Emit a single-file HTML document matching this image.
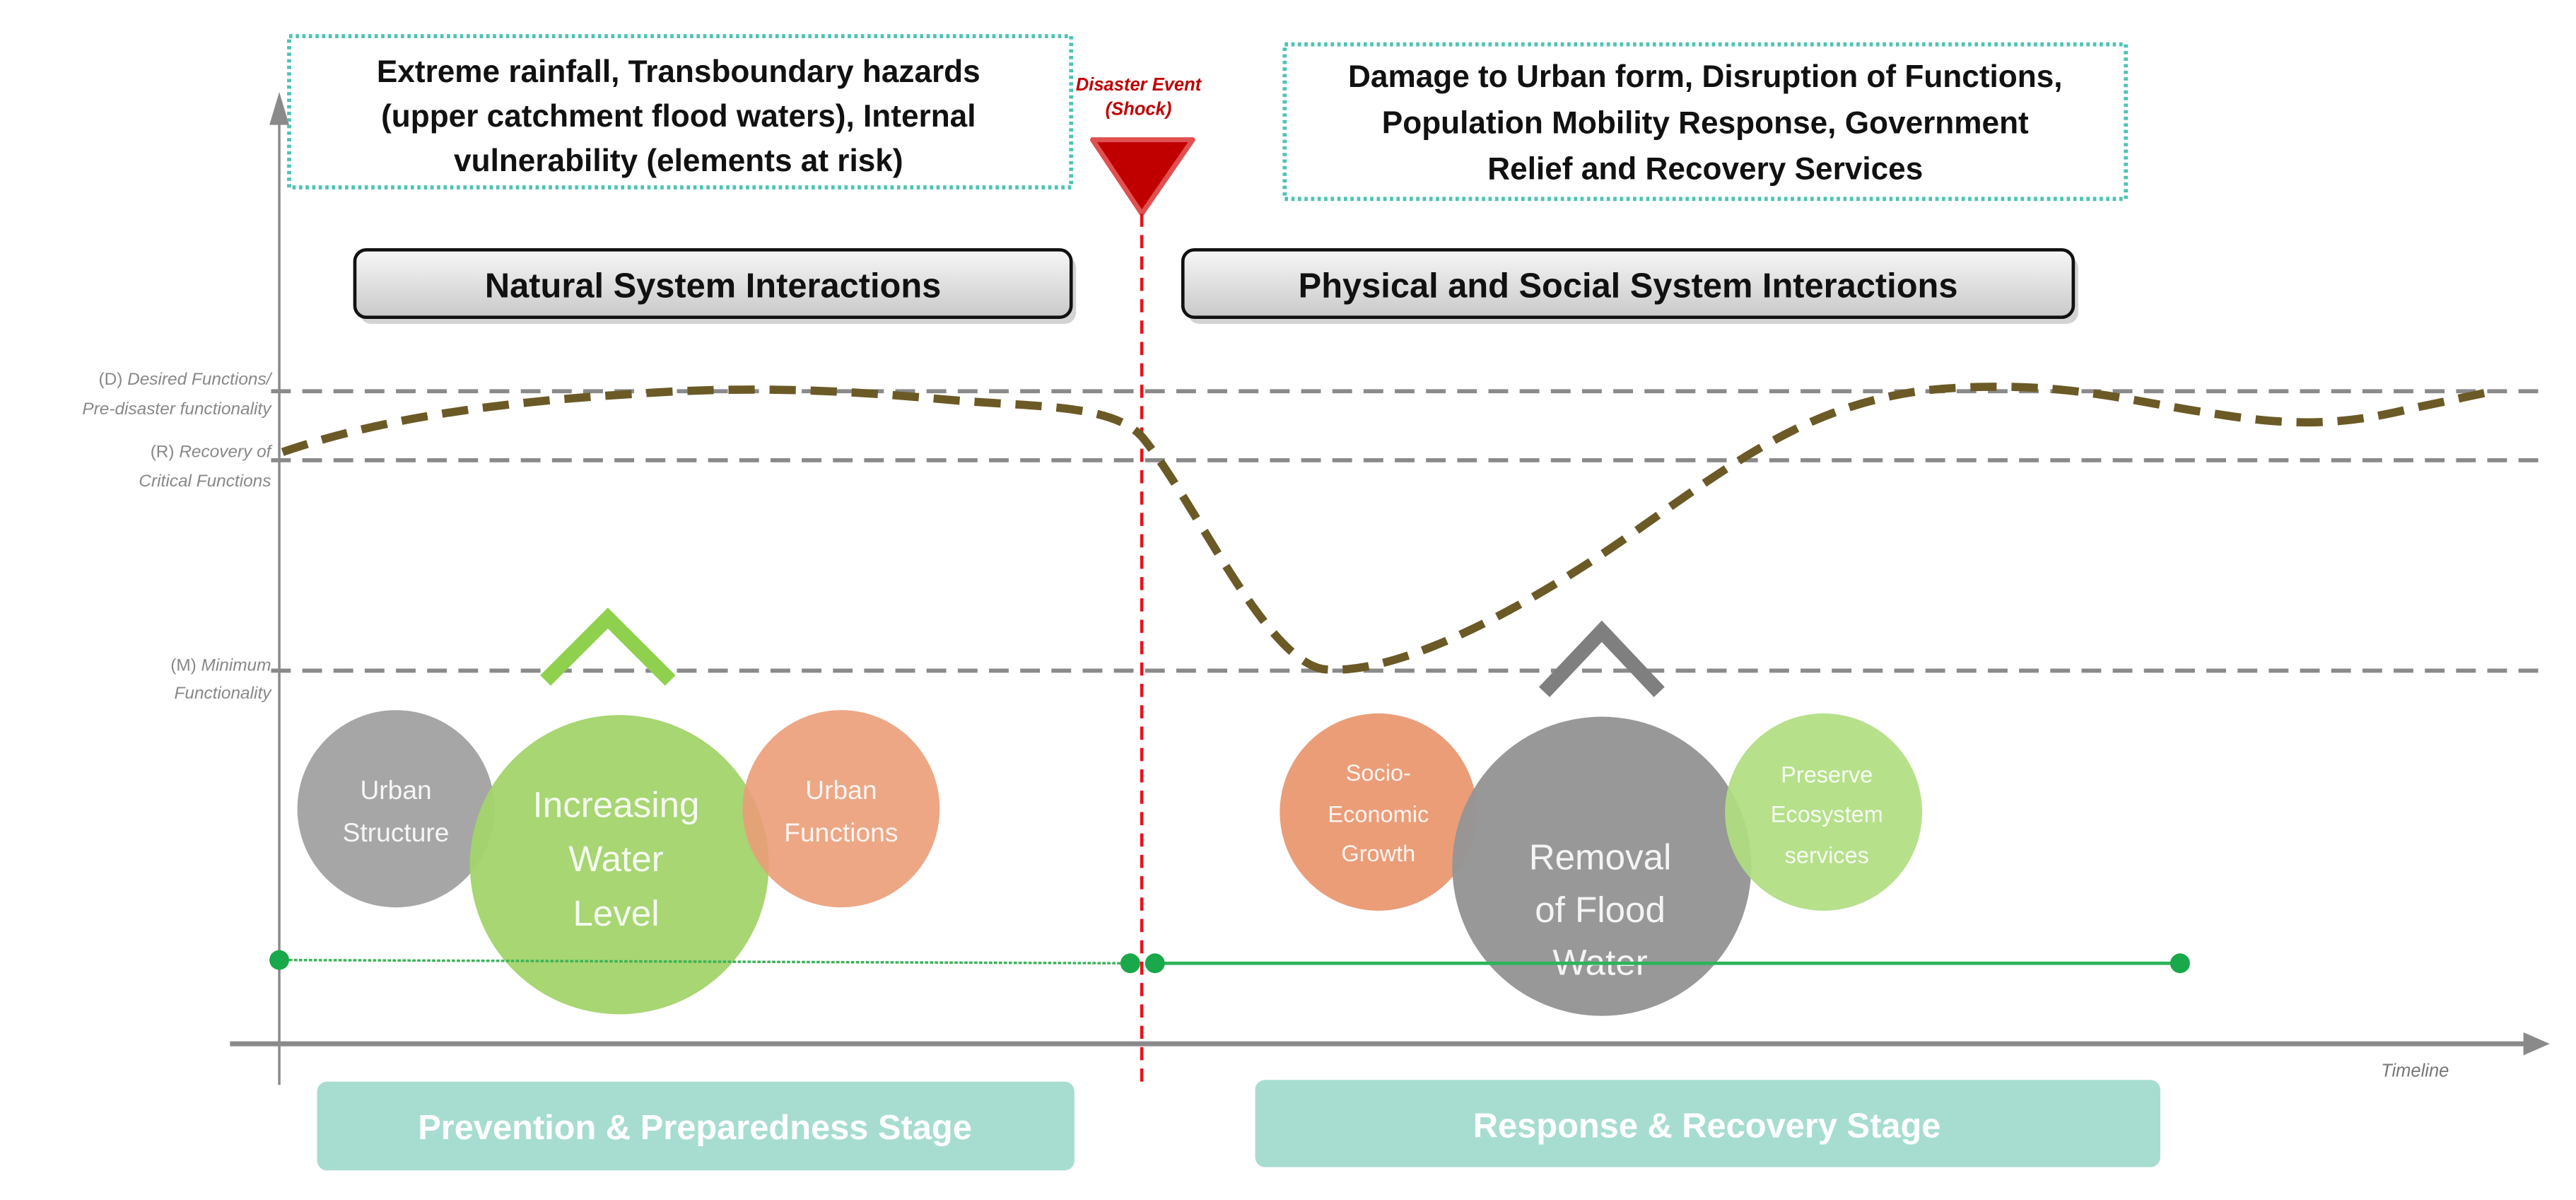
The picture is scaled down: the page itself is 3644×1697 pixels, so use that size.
<!DOCTYPE html>
<html><head><meta charset="utf-8"><style>
html,body{margin:0;padding:0;background:#fff;}
svg{display:block;}
text{font-family:"Liberation Sans",sans-serif;}
</style></head><body>
<svg width="3644" height="1697" viewBox="0 0 1568 730" preserveAspectRatio="none" xmlns="http://www.w3.org/2000/svg">
<defs>
<linearGradient id="g" x1="0" y1="0" x2="0" y2="1">
<stop offset="0" stop-color="#f7f7f7"/><stop offset="1" stop-color="#c9c9c9"/>
</linearGradient>
</defs>
<!-- axes -->
<line x1="170" y1="70" x2="170" y2="660" stroke="#8a8a8a" stroke-width="1.5"/>
<polygon points="164,76 170,56 176,76" fill="#8a8a8a"/>
<line x1="140" y1="635" x2="1538" y2="635" stroke="#8a8a8a" stroke-width="3"/>
<polygon points="1536,628 1552,635 1536,642" fill="#8a8a8a"/>
<text x="1470" y="655" font-size="11" font-style="italic" fill="#777" text-anchor="middle">Timeline</text>

<!-- top boxes -->
<rect x="176" y="22" width="476" height="92" fill="#fff" stroke="#4cc4b4" stroke-width="2.5" stroke-dasharray="2,2"/>
<g font-size="19" font-weight="bold" fill="#111" text-anchor="middle">
<text x="413" y="50">Extreme rainfall, Transboundary hazards</text>
<text x="413" y="77">(upper catchment flood waters), Internal</text>
<text x="413" y="104">vulnerability (elements at risk)</text>
</g>
<rect x="782" y="27" width="512" height="94" fill="#fff" stroke="#4cc4b4" stroke-width="2.5" stroke-dasharray="2,2"/>
<g font-size="19" font-weight="bold" fill="#111" text-anchor="middle">
<text x="1038" y="53">Damage to Urban form, Disruption of Functions,</text>
<text x="1038" y="81">Population Mobility Response, Government</text>
<text x="1038" y="109">Relief and Recovery Services</text>
</g>

<!-- disaster -->
<text x="693" y="55" font-size="11" font-style="italic" font-weight="bold" fill="#c00000" text-anchor="middle">Disaster Event</text>
<text x="693" y="70" font-size="11" font-style="italic" font-weight="bold" fill="#c00000" text-anchor="middle">(Shock)</text>
<polygon points="665,85 726,85 695,130" fill="#c00000" stroke="#e05050" stroke-width="3" stroke-linejoin="round"/>
<line x1="695" y1="130" x2="695" y2="662" stroke="#e8141c" stroke-width="2" stroke-dasharray="8,5"/>

<!-- system boxes -->
<rect x="219" y="156" width="436" height="41" rx="7" fill="#b5b5b5" opacity="0.6"/>
<rect x="216" y="152" width="436" height="41" rx="7" fill="url(#g)" stroke="#111" stroke-width="2"/>
<text x="434" y="181" font-size="21" font-weight="bold" fill="#111" text-anchor="middle">Natural System Interactions</text>
<rect x="723" y="156" width="542" height="41" rx="7" fill="#b5b5b5" opacity="0.6"/>
<rect x="720" y="152" width="542" height="41" rx="7" fill="url(#g)" stroke="#111" stroke-width="2"/>
<text x="991" y="181" font-size="21" font-weight="bold" fill="#111" text-anchor="middle">Physical and Social System Interactions</text>

<!-- reference lines -->
<g stroke="#8a8a8a" stroke-width="2.5" stroke-dasharray="12,7">
<line x1="165" y1="238" x2="1550" y2="238"/>
<line x1="165" y1="280" x2="1550" y2="280"/>
<line x1="165" y1="408" x2="1550" y2="408"/>
</g>
<g font-size="10.5" font-style="italic" fill="#888" text-anchor="end">
<text x="165" y="234"><tspan font-style="normal">(D)</tspan> Desired Functions/</text>
<text x="165" y="252">Pre-disaster functionality</text>
<text x="165" y="278"><tspan font-style="normal">(R)</tspan> Recovery of</text>
<text x="165" y="296">Critical Functions</text>
<text x="165" y="408"><tspan font-style="normal">(M)</tspan> Minimum</text>
<text x="165" y="425">Functionality</text>
</g>

<!-- curve -->
<path d="M172,275 C230,255 300,245 380,240 C460,234 520,238 575,243 C630,248 680,245 697,268 C730,310 770,400 805,407 C850,412 930,370 1000,320 C1060,278 1110,240 1190,236 C1260,232 1300,245 1350,252 C1400,260 1430,258 1470,248 C1500,242 1515,238 1520,238" fill="none" stroke="#6b5a26" stroke-width="5" stroke-dasharray="16,9"/>

<!-- chevrons -->
<polyline points="332,414 370,376 408,414" fill="none" stroke="#8fd14f" stroke-width="9"/>
<polyline points="940,421 975,384 1010,421" fill="none" stroke="#7f7f7f" stroke-width="9"/>

<!-- circles -->
<circle cx="241" cy="492" r="60" fill="#a6a6a6"/>
<circle cx="377" cy="526" r="91" fill="#a2d46a" opacity="0.95"/>
<circle cx="512" cy="492" r="60" fill="#eb9d78" opacity="0.9"/>
<circle cx="839" cy="494" r="60" fill="#eb9d78"/>
<circle cx="975" cy="527" r="91" fill="#959595" opacity="0.97"/>
<circle cx="1110" cy="494" r="60" fill="#b0dd80" opacity="0.92"/>
<g fill="#fff" text-anchor="middle" opacity="0.9">
<text x="241" y="486" font-size="16">Urban</text>
<text x="241" y="512" font-size="16">Structure</text>
<text x="512" y="486" font-size="16">Urban</text>
<text x="512" y="512" font-size="16">Functions</text>
<text x="375" y="497" font-size="22">Increasing</text>
<text x="375" y="530" font-size="22">Water</text>
<text x="375" y="563" font-size="22">Level</text>
<text x="839" y="475" font-size="14">Socio-</text>
<text x="839" y="500" font-size="14">Economic</text>
<text x="839" y="524" font-size="14">Growth</text>
<text x="1112" y="476" font-size="14">Preserve</text>
<text x="1112" y="500" font-size="14">Ecosystem</text>
<text x="1112" y="525" font-size="14">services</text>
<text x="974" y="529" font-size="22">Removal</text>
<text x="974" y="561" font-size="22">of Flood</text>
<text x="974" y="593" font-size="22">Water</text>
</g>

<!-- green timeline -->
<line x1="170" y1="584" x2="688" y2="586" stroke="#3cb35a" stroke-width="1.5" stroke-dasharray="2,1"/>
<line x1="703" y1="586" x2="1327" y2="586" stroke="#2db35a" stroke-width="2"/>
<g fill="#19a84a">
<circle cx="170" cy="584" r="6"/><circle cx="688" cy="586" r="6"/>
<circle cx="703" cy="586" r="6"/><circle cx="1327" cy="586" r="6"/>
</g>

<!-- stage boxes -->
<rect x="193" y="658" width="461" height="54" rx="6" fill="#a7ddd1"/>
<text x="423" y="693" font-size="21" font-weight="bold" fill="#fff" text-anchor="middle">Prevention &amp; Preparedness Stage</text>
<rect x="764" y="657" width="551" height="53" rx="6" fill="#a7ddd1"/>
<text x="1039" y="692" font-size="21" font-weight="bold" fill="#fff" text-anchor="middle">Response &amp; Recovery Stage</text>
</svg>
</body></html>
